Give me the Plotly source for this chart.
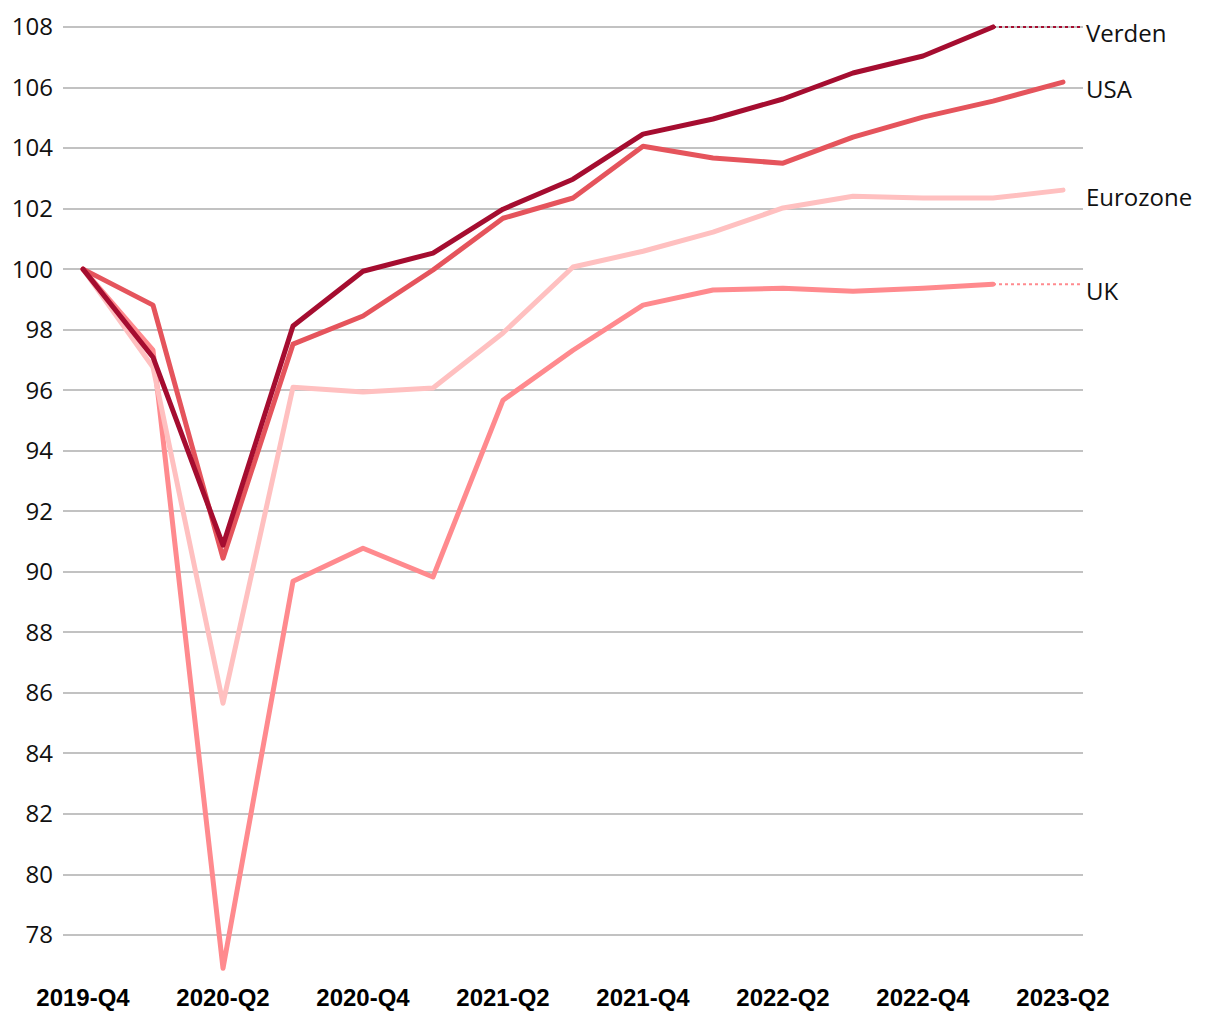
import plotly.graph_objects as go

quarters = ["2019-Q4", "2020-Q1", "2020-Q2", "2020-Q3", "2020-Q4", "2021-Q1", "2021-Q2",
            "2021-Q3", "2021-Q4", "2022-Q1", "2022-Q2", "2022-Q3", "2022-Q4", "2023-Q1", "2023-Q2"]
tick_labels = ["2019-Q4", "2020-Q2", "2020-Q4", "2021-Q2", "2021-Q4", "2022-Q2", "2022-Q4", "2023-Q2"]

verden = [100, 97.09, 90.88, 98.12, 99.93, 100.53, 101.98, 102.97, 104.46, 104.96, 105.62, 106.48, 107.04, 108.0]
usa = [100, 98.81, 90.45, 97.52, 98.45, 99.97, 101.68, 102.35, 104.06, 103.67, 103.50, 104.36, 105.02, 105.55, 106.18]
eurozone = [100, 96.76, 85.66, 96.10, 95.94, 96.07, 97.89, 100.07, 100.59, 101.22, 102.02, 102.41, 102.35, 102.35, 102.61]
uk = [100, 97.32, 76.90, 89.69, 90.78, 89.83, 95.67, 97.32, 98.81, 99.31, 99.37, 99.27, 99.37, 99.50]

series_names = ["UK", "Eurozone", "USA", "Verden"]
series_values = [uk, eurozone, usa, verden]
series_colors = ["#ff8a8e", "#ffc0c0", "#e5545c", "#a50d30"]

y_ticks = list(range(78, 110, 2))

X_MIN, X_MAX = -0.2857, 14.2857
Y_MIN, Y_MAX = 76.68, 108.23

fig = go.Figure()
for name, vals, col in zip(series_names, series_values, series_colors):
    xs = list(range(len(vals)))
    fig.add_trace(go.Scatter(x=xs, y=vals, mode="lines", name=name,
                             line=dict(color=col, width=5), hoverinfo="skip", cliponaxis=False))
    # dotted connector to label if the series ends before the last quarter
    if len(vals) < len(quarters):
        fig.add_trace(go.Scatter(x=[len(vals) - 1, X_MAX], y=[vals[-1], vals[-1]], mode="lines",
                                 line=dict(color=col, width=2, dash="3px,3px"),
                                 showlegend=False, hoverinfo="skip", cliponaxis=False))
    fig.add_annotation(x=1, xref="paper", y=vals[-1], yref="y", text=name,
                       showarrow=False, xanchor="left", yanchor="middle", xshift=1, yshift=-6,
                       font=dict(family="Open Sans", size=24, color="#111111"))

fig.update_layout(
    width=1212, height=1012,
    margin=dict(l=55, r=137, t=12, b=45),
    plot_bgcolor="white", paper_bgcolor="white",
    showlegend=False,
    xaxis=dict(range=[X_MIN, X_MAX], tickmode="array", automargin=False,
               tickvals=[quarters.index(t) for t in tick_labels], ticktext=tick_labels,
               showgrid=False, zeroline=False, showline=False, ticks="",
               tickfont=dict(family="Liberation Sans", size=24, color="#000000", weight="bold"),
               ticklabelstandoff=6),
    yaxis=dict(range=[Y_MIN, Y_MAX], tickmode="array", tickvals=y_ticks, automargin=False,
               showgrid=True, gridcolor="#c2c2c2", gridwidth=1.5, zeroline=False, showline=False,
               ticks="", tickfont=dict(family="Open Sans", size=24, color="#111111"),
               ticklabelstandoff=9),
)

round_js = """
document.querySelectorAll('path.js-line').forEach(function(p){
  var d = p.style.strokeDasharray;
  if (!d || d === 'none' || d === '') {
    p.style.strokeLinejoin = 'round';
    p.style.strokeLinecap = 'round';
  }
});
"""

fig.write_html("out.html", post_script=round_js)
